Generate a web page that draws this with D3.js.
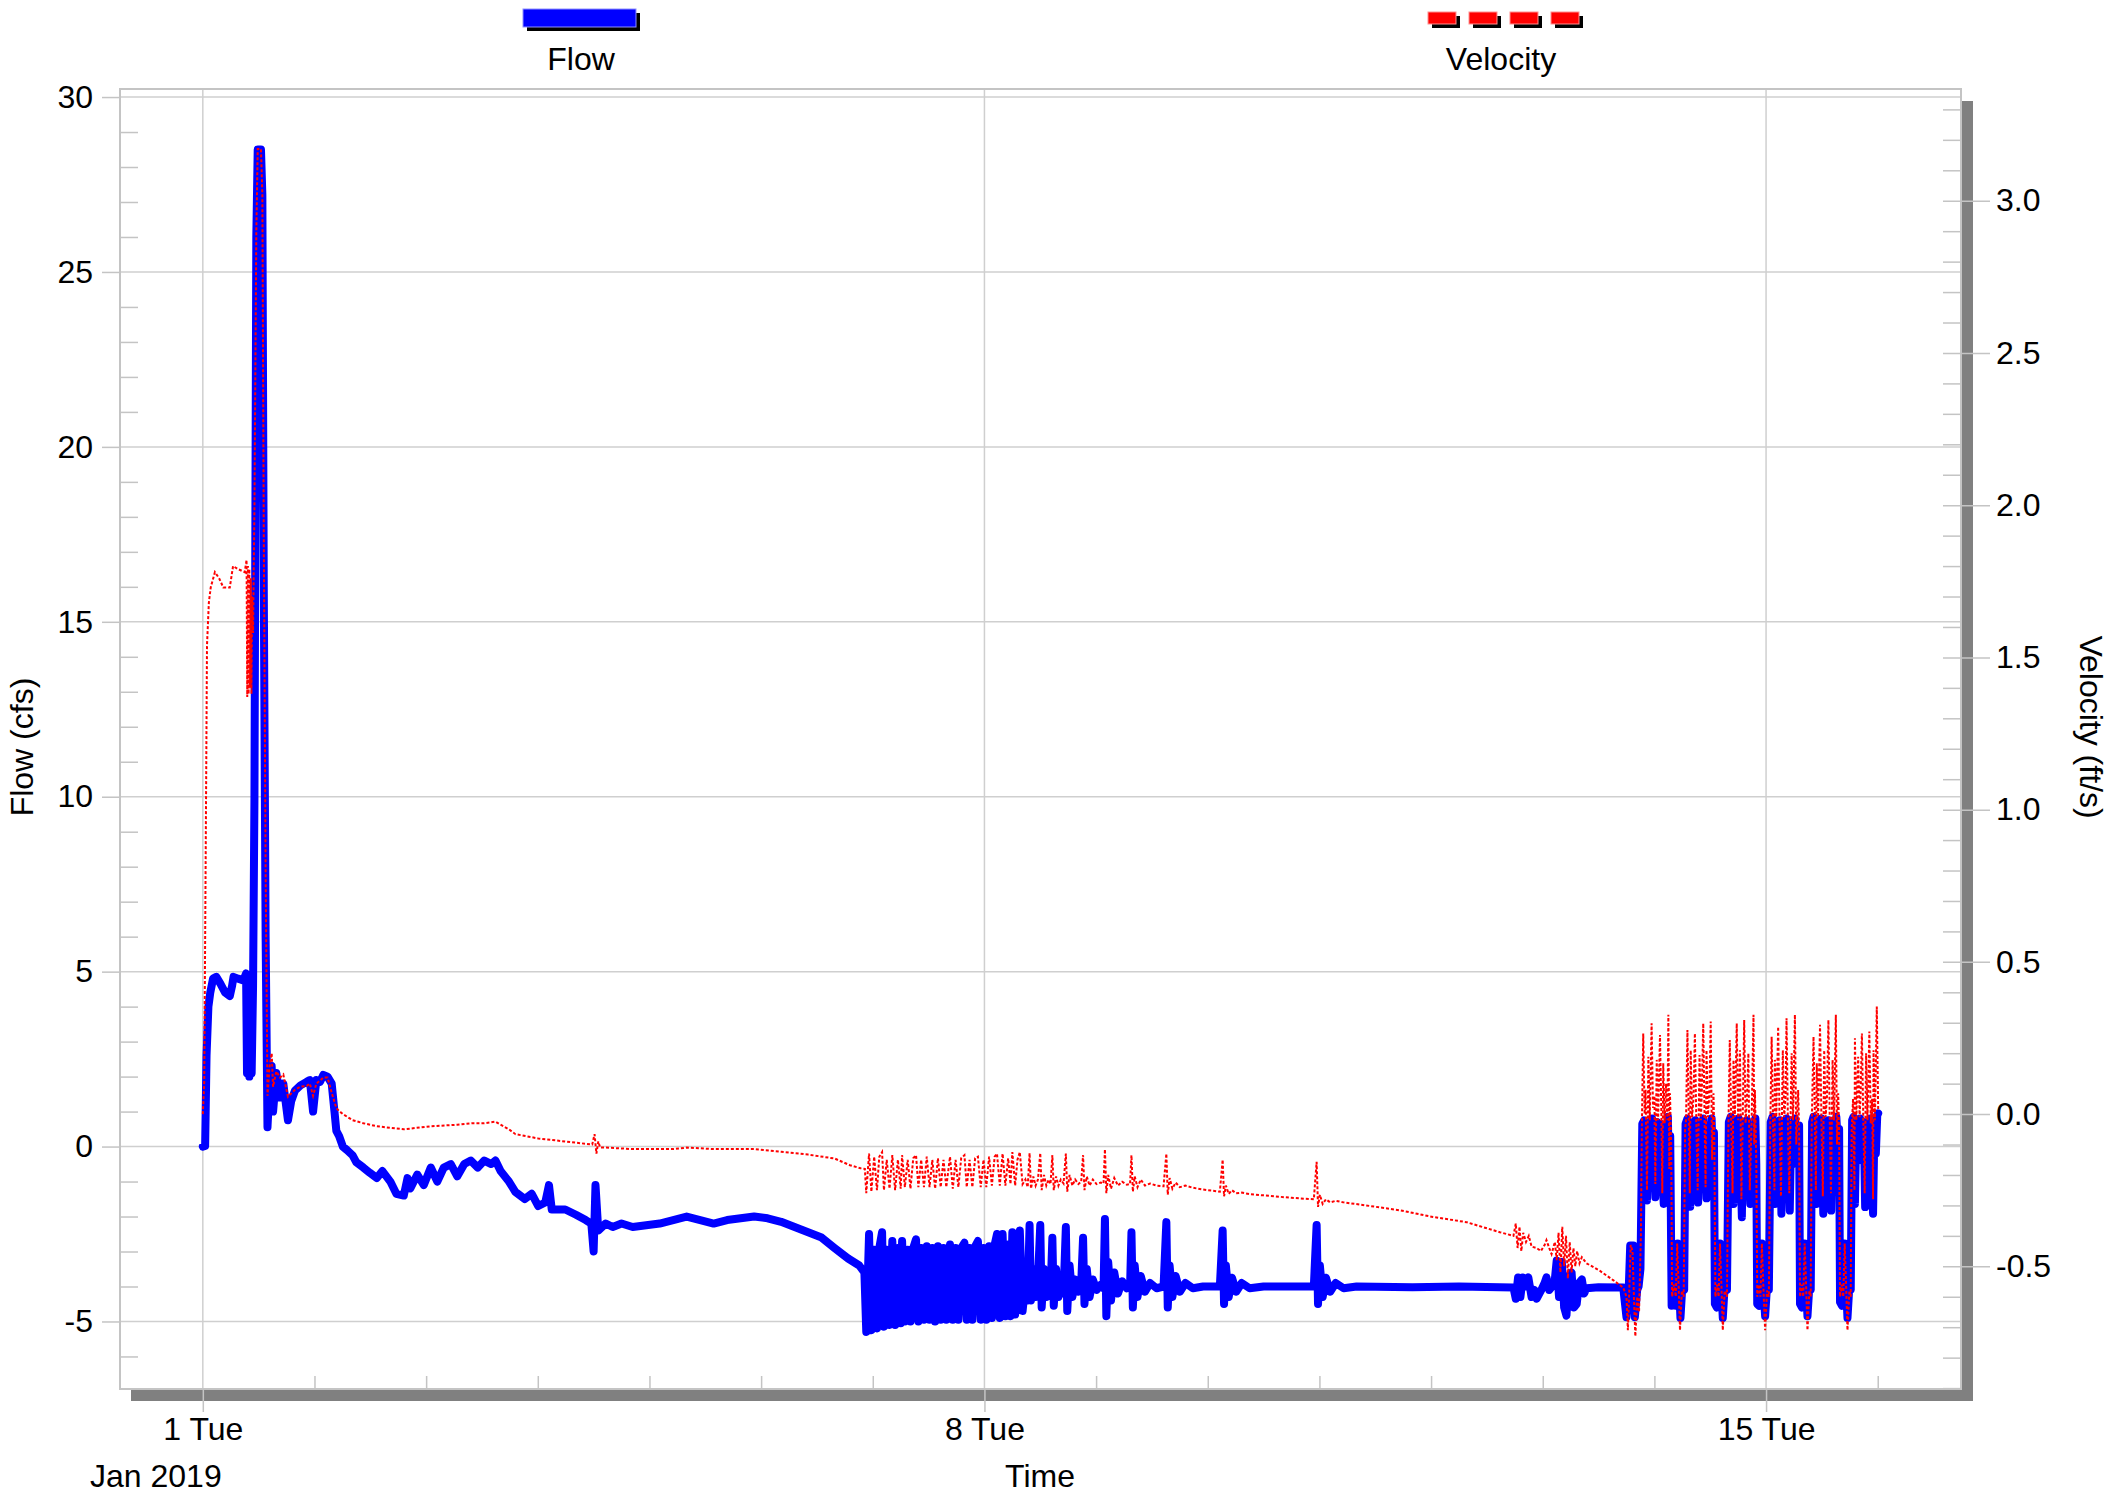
<!DOCTYPE html>
<html>
<head>
<meta charset="utf-8">
<script src="https://cdn.jsdelivr.net/npm/d3@7"></script>
<style>
  html, body { margin: 0; padding: 0; background: #ffffff; }
  svg { display: block; }
  text { font-family: "Liberation Sans", Arial, sans-serif; }
</style>
</head>
<body>
<svg id="chart" width="2112" height="1494"></svg>
<script>
// ---------------- DATA (hours since 2019-01-01 00:00, value) ----------------
const startDate = Date.UTC(2019, 0, 1);
const xDomainHours = [-17.8, 377.9];
const flowDomain = [-6.93, 30.23];
const velDomain = [-0.903, 3.367];

const flowTicks = [-5, 0, 5, 10, 15, 20, 25, 30];
const velTicks = [-0.5, 0.0, 0.5, 1.0, 1.5, 2.0, 2.5, 3.0];
const dayTicksMajor = [0, 7, 14];          // Jan 1, Jan 8, Jan 15 (days offset)
const seriesNames = ["Flow", "Velocity"];
const axisTitles = { flow: "Flow (cfs)", vel: "Velocity (ft/s)", time: "Time", month: "Jan 2019" };

// Flow (cfs)
const flowStart = [[0,0],[0.5,0.02],[0.8,2.6],[1.2,4.0],[1.6,4.4],[2.2,4.8],[2.9,4.85],[3.8,4.65],[4.8,4.4],[5.8,4.3],[6.3,4.6],[6.6,4.85],[7.6,4.8],[8.7,4.75],[9.3,4.95],[9.5,2.1],[9.8,4.6],[10.0,2.0],[10.3,4.4],[10.5,2.1],[10.8,4.6],[11.1,10],[11.5,26],[11.8,28.5],[12.5,28.5],[12.8,27.2],[13.1,16],[13.5,6],[13.9,0.55],[14.3,1.6],[14.8,2.3],[15.1,1.0],[15.8,2.1],[16.6,1.4],[17.3,1.8],[18.3,0.75],[19.0,1.3],[19.8,1.6],[21.0,1.75],[22.3,1.85],[23.0,1.9],[23.7,1.0],[24.4,1.9],[25.2,1.85],[25.9,2.05],[26.8,2.0],[27.7,1.8],[28.3,1.0],[28.7,0.45]];
const flowDecline = [[29.3,0.3],[30.1,0.0],[31.0,-0.1],[32.2,-0.25],[33.0,-0.45],[34.5,-0.6],[35.9,-0.75],[37.4,-0.9],[38.6,-0.7],[40.3,-1.0],[41.6,-1.35],[43.2,-1.4],[44.0,-0.9],[44.6,-1.2],[46.1,-0.8],[47.5,-1.1],[49.0,-0.6],[50.4,-1.0],[51.8,-0.6],[53.3,-0.5],[54.7,-0.85],[56.2,-0.5],[57.6,-0.4],[59.1,-0.6],[60.5,-0.4],[62.0,-0.5],[62.9,-0.4],[64.0,-0.7],[65.8,-1.0],[67.2,-1.3],[69.2,-1.5],[70.7,-1.35],[72.1,-1.7],[73.6,-1.6],[74.4,-1.1],[75.0,-1.8],[77.9,-1.8],[80.2,-1.95],[82.3,-2.1],[83.5,-2.2],[84.0,-3.0],[84.4,-1.1],[85.0,-2.4],[86.6,-2.2],[88.1,-2.3],[90.0,-2.2],[92.4,-2.3],[95.3,-2.25],[98.2,-2.2],[101.1,-2.1],[104.0,-2.0],[106.9,-2.1],[109.8,-2.2],[112.7,-2.1],[115.6,-2.05],[118.5,-2.0],[121.4,-2.05],[124.3,-2.15],[127.2,-2.3],[130.1,-2.45],[133.0,-2.6],[135.8,-2.9],[138.7,-3.2],[141.1,-3.4],[142.2,-3.6]];
const flowDense = [[142.6,-5.3],[143.2,-2.5],[143.7,-5.25],[144.3,-2.95],[144.9,-5.2],[145.4,-2.9],[146.0,-2.45],[146.4,-5.15],[147.0,-2.95],[147.6,-5.1],[148.2,-2.7],[148.8,-5.1],[149.4,-2.9],[150.0,-5.05],[150.3,-2.7],[150.9,-5.0],[151.5,-2.95],[152.1,-5.0],[152.7,-2.9],[153.3,-2.65],[153.8,-5.0],[154.4,-2.9],[155.0,-4.95],[155.6,-2.85],[156.2,-4.95],[156.8,-2.9],[157.4,-5.0],[158.0,-2.85],[158.6,-4.95],[159.2,-2.9],[159.8,-4.95],[160.6,-2.8],[161.2,-4.95],[161.8,-2.9],[162.4,-4.95],[163.0,-2.9],[163.7,-2.75],[164.2,-4.95],[164.8,-2.9],[165.4,-4.95],[166.0,-2.85],[166.6,-2.7],[167.2,-4.95],[167.8,-2.9],[168.4,-4.95],[169.0,-2.85],[169.6,-4.9],[170.2,-2.8],[170.7,-2.5],[171.3,-4.9],[171.9,-2.5],[172.5,-4.85],[173.1,-2.8],[173.6,-4.85],[174.0,-2.45],[174.6,-4.8],[175.1,-3.0],[175.6,-2.4],[176.2,-4.7]];
const flowSpikes = [[176.8,-3.9],[177.3,-4.4],[177.7,-2.24],[178.0,-4.4],[178.5,-3.5],[179.0,-4.3],[179.5,-3.8],[180.0,-2.24],[180.3,-4.6],[180.8,-3.5],[181.3,-4.3],[181.8,-3.8],[182.2,-4.2],[182.6,-2.61],[182.9,-4.55],[183.4,-3.5],[183.9,-4.3],[184.4,-3.8],[185.0,-4.2],[185.5,-2.3],[185.8,-4.7],[186.3,-3.4],[186.9,-4.3],[187.5,-3.8],[188.2,-4.15],[188.8,-3.9],[189.2,-2.61],[189.5,-4.5],[190.0,-3.5],[190.6,-4.3],[191.3,-3.8],[192.1,-4.1],[193.0,-3.95],[193.6,-4.05],[193.9,-2.07],[194.2,-4.85],[194.6,-3.3],[195.2,-4.4],[195.9,-3.6],[196.7,-4.2],[197.6,-3.85],[198.6,-4.05],[199.3,-4.0],[199.6,-2.45],[199.9,-4.6],[200.3,-3.4],[200.9,-4.3],[201.6,-3.7],[202.5,-4.15],[203.6,-3.9],[205.0,-4.05],[206.5,-4.0],[207.1,-2.16],[207.4,-4.6],[207.8,-3.4],[208.4,-4.3],[209.1,-3.7],[210.0,-4.15],[211.2,-3.9],[212.8,-4.05],[215.0,-4.0],[218.6,-4.0],[219.2,-2.4],[219.5,-4.5],[219.9,-3.4],[220.5,-4.3],[221.2,-3.75],[222.1,-4.15],[223.3,-3.9],[225.0,-4.05],[228.0,-4.0],[238.8,-4.0],[239.4,-2.24],[239.7,-4.5],[240.1,-3.4],[240.7,-4.3],[241.4,-3.75],[242.3,-4.15],[243.5,-3.9],[245.2,-4.05],[248.0,-4.0],[260,-4.02]];
const flowFlat = [[270,-4.0],[281.7,-4.03],[282.2,-4.35],[282.7,-3.74],[283.2,-4.3],[283.7,-3.74],[284.3,-4.0],[284.9,-3.74],[285.6,-4.3],[286.2,-4.1],[286.7,-4.35],[287.7,-4.1],[288.4,-3.9],[288.8,-3.74],[289.4,-4.1],[290.0,-4.0],[290.6,-3.8],[291.0,-3.26],[291.5,-4.3],[292.1,-3.3],[292.6,-4.6],[293.1,-4.83],[293.6,-3.7],[294.2,-3.6],[294.7,-4.6],[295.3,-4.5],[295.8,-3.9],[296.4,-3.8],[296.9,-4.2],[297.4,-4.05],[300,-4.02],[305.3,-4.03],[306.0,-4.88],[306.5,-4.0],[306.8,-2.83],[307.5,-2.83],[307.8,-4.88],[308.3,-4.1],[308.6,-4.0],[309.0,-3.5]];
const flowCycles = [[309.4,0.65],[309.8,0.75],[310.1,-0.4],[310.4,-1.54],[310.7,0.6],[311.1,-0.5],[311.5,0.8],[311.9,-0.3],[312.2,-1.45],[312.5,0.7],[312.9,-0.4],[313.3,0.65],[313.7,-0.6],[314.0,-1.64],[314.3,0.5],[314.6,-0.2],[314.9,0.85],[315.1,-0.88],[315.4,0.3],
  [315.7,-4.55],[316.2,-4.0],[316.6,-4.55],[317.0,-2.77],[317.3,-4.0],[317.6,-4.9],[318.0,-4.0],[318.4,-4.1],
  [318.7,0.65],[319.1,0.8],[319.4,-0.3],[319.7,-1.72],[320.0,0.6],[320.4,-0.4],[320.8,0.75],[321.1,-0.2],[321.4,-1.6],[321.7,0.7],[322.1,-0.5],[322.5,0.8],[322.9,-0.3],[323.2,-1.48],[323.5,0.6],[323.9,-0.2],[324.3,0.8],[324.6,-0.88],[324.8,0.4],
  [325.0,-4.5],[325.4,-4.6],[325.8,-4.0],[326.1,-2.77],[326.4,-4.0],[326.7,-4.9],[327.1,-4.0],[327.6,-4.1],
  [328.0,0.7],[328.4,0.85],[328.7,-0.4],[329.0,-1.64],[329.3,0.6],[329.7,-0.3],[330.1,0.8],[330.5,-0.5],[330.8,-2.02],[331.1,0.7],[331.5,-0.3],[331.9,0.75],[332.3,-0.4],[332.6,-1.64],[332.9,0.6],[333.3,0.0],[333.7,0.8],[333.9,-0.5],
  [334.1,-4.5],[334.5,-4.55],[334.9,-4.0],[335.1,-2.77],[335.4,-4.0],[335.8,-4.85],[336.2,-4.0],[336.6,-4.1],
  [337.0,0.7],[337.4,0.85],[337.7,-0.4],[337.9,-1.64],[338.2,0.6],[338.6,-0.3],[339.0,0.75],[339.3,-1.92],[339.6,0.7],[340.0,-0.4],[340.4,0.8],[340.8,-0.3],[341.1,-1.83],[341.4,0.65],[341.8,-0.2],[342.2,0.8],[342.6,-0.5],[342.9,0.2],[343.1,0.6],
  [343.3,-4.5],[343.7,-4.6],[344.0,-4.0],[344.3,-2.77],[344.6,-4.0],[344.9,-4.85],[345.3,-4.0],[345.6,-4.1],
  [345.9,0.7],[346.2,0.85],[346.5,-0.4],[346.8,-1.64],[347.1,0.6],[347.5,-0.3],[347.9,0.8],[348.3,-1.92],[348.6,0.7],[349.0,-0.4],[349.4,0.75],[349.7,-0.3],[350.0,-1.83],[350.3,0.6],[350.7,-0.2],[351.1,0.85],[351.5,-0.1],[351.7,0.5],
  [351.9,-4.45],[352.3,-4.55],[352.7,-4.0],[352.9,-2.77],[353.2,-4.0],[353.5,-4.9],[353.9,-4.0],[354.2,-4.1],
  [354.5,0.75],[354.8,0.85],[355.1,-1.64],[355.4,0.6],[355.8,-0.3],[356.2,0.8],[356.6,-0.4],[357.0,0.7],[357.3,-1.73],[357.6,0.65],[358.0,-0.3],[358.4,0.8],[358.7,-0.4],[359.0,-1.92],[359.3,0.6],[359.6,-0.2],[359.9,0.9],[360.1,0.95]];

// Velocity (ft/s)
const velStart = [[0.0,0.0],[0.3,0.1],[0.6,0.8],[0.9,1.54],[1.3,1.68],[1.7,1.73],[2.6,1.78],[3.5,1.76],[4.4,1.73],[5.8,1.73],[6.5,1.8],[7.6,1.79],[9.0,1.78],[9.4,1.82],[9.55,1.37],[9.7,1.8],[9.85,1.38],[10.0,1.79],[10.15,1.4],[10.3,1.76],[10.45,1.38],[10.6,1.7],[10.8,1.58],[11.1,2.0],[11.5,2.9],[11.8,3.17],[12.5,3.17],[12.8,3.02],[13.1,1.9],[13.5,0.8],[13.9,0.06],[14.3,0.15],[14.8,0.2],[15.1,0.09],[15.8,0.14],[16.6,0.12],[17.3,0.13],[18.3,0.057],[19.8,0.08],[21.0,0.09],[22.3,0.092],[23.0,0.1],[23.7,0.06],[24.4,0.1],[25.2,0.11],[25.9,0.12],[26.8,0.12],[27.7,0.07],[28.3,0.04],[28.7,0.02]];
const velDecline = [[29.3,0.01],[30.1,0.0],[32.2,-0.02],[34.5,-0.03],[37.4,-0.04],[43.2,-0.05],[49.0,-0.04],[54.7,-0.035],[58.0,-0.03],[60.5,-0.03],[62.9,-0.025],[64.0,-0.035],[65.8,-0.05],[67.2,-0.066],[72.1,-0.08],[77.9,-0.09],[83.7,-0.1],[84.2,-0.066],[84.6,-0.13],[85.0,-0.09],[85.4,-0.11],[86.6,-0.11],[92.4,-0.115],[101.1,-0.115],[104.0,-0.11],[109.8,-0.115],[118.5,-0.115],[124.3,-0.124],[130.1,-0.133],[135.8,-0.146],[139.1,-0.168],[141.4,-0.178],[142.3,-0.18]];
const velDense = [[142.6,-0.26],[143.2,-0.13],[143.7,-0.255],[144.3,-0.14],[144.9,-0.25],[145.4,-0.14],[146.0,-0.125],[146.4,-0.25],[147.0,-0.15],[147.6,-0.245],[148.2,-0.135],[148.8,-0.25],[149.4,-0.15],[150.0,-0.245],[150.3,-0.135],[150.9,-0.24],[151.5,-0.15],[152.1,-0.245],[152.7,-0.145],[153.3,-0.135],[153.8,-0.24],[154.4,-0.15],[155.0,-0.24],[155.6,-0.14],[156.2,-0.24],[156.8,-0.15],[157.4,-0.245],[158.0,-0.145],[158.6,-0.24],[159.2,-0.15],[159.8,-0.24],[160.6,-0.14],[161.2,-0.245],[161.8,-0.15],[162.4,-0.24],[163.0,-0.145],[163.7,-0.135],[164.2,-0.24],[164.8,-0.15],[165.4,-0.24],[166.0,-0.145],[166.6,-0.14],[167.2,-0.24],[167.8,-0.15],[168.4,-0.24],[169.0,-0.14],[169.6,-0.235],[170.2,-0.14],[170.7,-0.13],[171.3,-0.235],[171.9,-0.13],[172.5,-0.235],[173.1,-0.145],[173.6,-0.23],[174.0,-0.125],[174.6,-0.235],[175.1,-0.15],[175.6,-0.125],[176.2,-0.23]];
const velSpikes = [[176.8,-0.215],[177.3,-0.24],[177.7,-0.128],[178.0,-0.245],[178.5,-0.205],[179.0,-0.235],[179.5,-0.215],[180.0,-0.128],[180.3,-0.25],[180.8,-0.2],[181.3,-0.235],[181.8,-0.215],[182.2,-0.23],[182.6,-0.135],[182.9,-0.25],[183.4,-0.205],[183.9,-0.235],[184.4,-0.215],[185.0,-0.228],[185.5,-0.13],[185.8,-0.255],[186.3,-0.2],[186.9,-0.235],[187.5,-0.215],[188.2,-0.23],[188.8,-0.222],[189.2,-0.135],[189.5,-0.25],[190.0,-0.205],[190.6,-0.235],[191.3,-0.215],[192.1,-0.23],[193.0,-0.225],[193.6,-0.228],[193.9,-0.116],[194.2,-0.26],[194.6,-0.2],[195.2,-0.245],[195.9,-0.21],[196.7,-0.235],[197.6,-0.222],[198.6,-0.232],[199.3,-0.23],[199.6,-0.135],[199.9,-0.255],[200.3,-0.205],[200.9,-0.24],[201.6,-0.215],[202.5,-0.235],[203.6,-0.228],[205.0,-0.235],[206.5,-0.237],[207.1,-0.13],[207.4,-0.265],[207.8,-0.21],[208.4,-0.245],[209.1,-0.225],[210.0,-0.24],[211.2,-0.235],[212.8,-0.242],[215.0,-0.248],[218.6,-0.255],[219.2,-0.15],[219.5,-0.27],[219.9,-0.235],[220.5,-0.262],[221.2,-0.25],[222.1,-0.26],[223.3,-0.258],[225.0,-0.263],[228.0,-0.267],[234.0,-0.275],[238.8,-0.28],[239.4,-0.157],[239.7,-0.305],[240.1,-0.265],[240.7,-0.295],[241.4,-0.28],[242.3,-0.29],[243.5,-0.285],[245.2,-0.29],[250.0,-0.3],[257.3,-0.316]];
const velFlat = [[264.4,-0.338],[271.6,-0.355],[278.8,-0.388],[281.7,-0.4],[282.2,-0.36],[282.6,-0.44],[283.0,-0.37],[283.4,-0.45],[283.8,-0.39],[284.4,-0.42],[285.0,-0.4],[285.6,-0.435],[286.7,-0.44],[287.6,-0.45],[288.4,-0.43],[288.8,-0.414],[289.4,-0.44],[289.9,-0.46],[290.6,-0.42],[291.0,-0.48],[291.4,-0.39],[291.8,-0.52],[292.2,-0.37],[292.6,-0.5],[293.0,-0.4],[293.4,-0.54],[293.8,-0.42],[294.2,-0.52],[294.6,-0.44],[295.0,-0.5],[295.4,-0.45],[295.9,-0.49],[296.4,-0.47],[297.4,-0.49],[300.3,-0.515],[303.2,-0.546],[305.3,-0.57],[306.0,-0.6],[306.3,-0.71],[306.6,-0.58],[306.9,-0.43],[307.3,-0.45],[307.6,-0.6],[307.9,-0.73],[308.3,-0.6],[308.7,-0.65],[309.1,-0.4]];
const velCycles = [[309.3,-0.05],[309.6,0.265],[309.9,0.0],[310.1,0.08],[310.4,-0.25],[310.7,0.188],[311.0,-0.02],[311.4,0.298],[311.7,0.02],[312.0,0.06],[312.2,-0.23],[312.5,0.178],[312.8,-0.02],[313.2,0.26],[313.5,0.0],[313.7,-0.26],[313.9,0.167],[314.2,-0.03],[314.5,0.1],[314.8,-0.02],[315.0,0.326],[315.2,-0.18],[315.35,0.068],[315.6,-0.1],[315.8,-0.6],
  [316.2,-0.56],[316.6,-0.6],[316.9,-0.425],[317.2,-0.56],[317.5,-0.71],[317.9,-0.58],[318.3,-0.6],[318.6,-0.05],
  [318.8,-0.02],[319.1,0.276],[319.4,-0.02],[319.6,-0.26],[319.8,0.21],[320.1,-0.01],[320.4,0.05],[320.7,0.265],[321.0,-0.02],[321.3,-0.25],[321.7,0.194],[322.0,-0.02],[322.2,0.08],[322.5,0.298],[322.8,-0.03],[323.0,-0.24],[323.2,0.21],[323.5,-0.01],[323.8,0.06],[324.1,0.304],[324.4,-0.15],[324.7,0.068],[324.9,-0.1],[325.1,-0.6],
  [325.5,-0.56],[325.8,-0.6],[326.1,-0.425],[326.4,-0.56],[326.7,-0.71],[327.1,-0.58],[327.6,-0.6],[327.9,-0.05],
  [328.2,0.243],[328.5,-0.02],[328.8,-0.26],[329.0,0.178],[329.3,-0.01],[329.7,0.298],[330.0,-0.02],[330.2,0.06],[330.4,0.21],[330.7,-0.28],[331.0,0.0],[331.3,0.309],[331.6,-0.03],[331.9,0.05],[332.2,0.2],[332.5,-0.25],[332.9,-0.02],[333.3,0.326],[333.45,-0.1],[333.6,0.079],[333.9,-0.15],[334.1,-0.6],
  [334.5,-0.56],[334.8,-0.6],[335.1,-0.425],[335.4,-0.56],[335.8,-0.71],[336.2,-0.58],[336.6,-0.6],[336.9,-0.05],
  [337.2,0.254],[337.5,-0.02],[337.8,-0.25],[337.9,0.178],[338.2,-0.01],[338.6,0.287],[338.9,-0.02],[339.2,-0.27],[339.6,0.21],[339.9,-0.01],[340.2,0.06],[340.4,0.315],[340.7,-0.03],[341.0,-0.26],[341.5,0.2],[341.8,-0.02],[342.2,0.326],[342.5,-0.1],[342.9,0.079],[343.1,-0.05],[343.3,-0.6],
  [343.7,-0.56],[344.0,-0.6],[344.3,-0.425],[344.6,-0.56],[344.9,-0.71],[345.3,-0.58],[345.6,-0.6],[345.8,-0.05],
  [346.2,0.254],[346.5,-0.02],[346.7,-0.25],[346.9,0.167],[347.2,-0.01],[347.6,0.293],[347.9,-0.02],[348.2,-0.27],[348.5,0.21],[348.8,-0.01],[349.1,0.06],[349.4,0.309],[349.7,-0.03],[349.95,-0.26],[350.3,0.178],[350.6,-0.02],[351.0,0.326],[351.25,-0.1],[351.5,0.068],[351.7,-0.05],[351.9,-0.6],
  [352.3,-0.56],[352.6,-0.6],[352.9,-0.425],[353.2,-0.56],[353.5,-0.71],[353.9,-0.58],[354.2,-0.6],[354.4,-0.05],
  [354.7,0.05],[355.0,-0.25],[355.1,0.249],[355.4,-0.02],[355.8,0.188],[356.1,-0.01],[356.3,0.05],[356.6,0.265],[356.9,-0.02],[357.2,-0.26],[357.5,0.2],[357.8,-0.02],[358.2,0.271],[358.5,-0.03],[358.8,0.05],[359.0,-0.28],[359.1,0.21],[359.4,-0.02],[359.8,0.353],[360.1,0.013]];

const flowData = [].concat(flowStart, flowDecline, flowDense, flowSpikes, flowFlat, flowCycles);
const velData = [].concat(velStart, velDecline, velDense, velSpikes, velFlat, velCycles);

// ---------------- LAYOUT ----------------
const P = { left: 120, right: 1961, top: 89, bottom: 1389 };
const FONT = 32;
const GRID = "#cfcfcf";
const FRAME = "#c4c4c4";
const SHADOW = "#808080";

const loc = d3.formatLocale({ decimal: ".", thousands: ",", grouping: [3], currency: ["$", ""], minus: "-" });
const hourToDate = h => new Date(startDate + h * 3600000);
const x = d3.scaleUtc().domain(xDomainHours.map(hourToDate)).range([P.left, P.right]);
const yF = d3.scaleLinear().domain(flowDomain).range([P.bottom, P.top]);
const yV = d3.scaleLinear().domain(velDomain).range([P.bottom, P.top]);

const svg = d3.select("#chart");
svg.append("rect").attr("width", 2112).attr("height", 1494).attr("fill", "#fff");

// shadow of the plot box
svg.append("rect").attr("x", P.left + 11).attr("y", P.bottom).attr("width", P.right - P.left + 1).attr("height", 12).attr("fill", SHADOW);
svg.append("rect").attr("x", P.right).attr("y", P.top + 12).attr("width", 12).attr("height", P.bottom - P.top).attr("fill", SHADOW);
svg.append("rect").attr("x", P.left).attr("y", P.top).attr("width", P.right - P.left).attr("height", P.bottom - P.top).attr("fill", "#fff");

// horizontal gridlines (flow majors)
svg.append("g").selectAll("line").data(flowTicks).join("line")
  .attr("x1", P.left).attr("x2", P.right).attr("y1", d => yF(d)).attr("y2", d => yF(d))
  .attr("stroke", GRID).attr("stroke-width", 1.5);
// vertical gridlines (major days)
const majorDates = dayTicksMajor.map(d => hourToDate(d * 24));
svg.append("g").selectAll("line").data(majorDates).join("line")
  .attr("x1", d => x(d)).attr("x2", d => x(d)).attr("y1", P.top).attr("y2", P.bottom)
  .attr("stroke", GRID).attr("stroke-width", 1.5);

// minor ticks
const flowMinor = d3.range(-6, 31, 1).filter(v => v % 5 !== 0);
const velMinor = d3.range(-9, 34, 1).map(v => v / 10).filter(v => Math.round(v * 10) % 5 !== 0);
const dayMinor = d3.range(0, 17, 1).filter(d => !dayTicksMajor.includes(d))
  .map(d => hourToDate(d * 24)).filter(d => x(d) > P.left && x(d) < P.right);

function styleAxis(g) {
  g.select(".domain").remove();
  g.selectAll(".tick line").attr("stroke", FRAME).attr("stroke-width", 1.5);
  g.selectAll(".tick text").attr("fill", "#000").style("font-size", FONT + "px")
    .style("font-family", "'Liberation Sans', Arial, sans-serif");
}

svg.append("g").attr("transform", `translate(${P.left},0)`)
  .call(d3.axisRight(yF).tickValues(flowMinor).tickSize(18).tickFormat(""))
  .call(styleAxis);
svg.append("g").attr("transform", `translate(${P.right},0)`)
  .call(d3.axisLeft(yV).tickValues(velMinor).tickSize(18).tickFormat(""))
  .call(styleAxis);
svg.append("g").attr("transform", `translate(0,${P.bottom})`)
  .call(d3.axisTop(x).tickValues(dayMinor).tickSize(13).tickFormat(""))
  .call(styleAxis);

// major axes with labels
svg.append("g").attr("transform", `translate(${P.left},0)`)
  .call(d3.axisLeft(yF).tickValues(flowTicks).tickSize(18).tickPadding(9).tickFormat(loc.format("d")))
  .call(styleAxis);
svg.append("g").attr("transform", `translate(${P.right - 18},0)`)
  .call(d3.axisRight(yV).tickValues(velTicks).tickSize(47).tickPadding(6).tickFormat(loc.format(".1f")))
  .call(styleAxis);
svg.append("g").attr("transform", `translate(0,${P.bottom})`)
  .call(d3.axisBottom(x).tickValues(majorDates).tickSize(23).tickPadding(5).tickFormat(d3.utcFormat("%-d %a")))
  .call(styleAxis);

// frame
svg.append("rect").attr("x", P.left).attr("y", P.top).attr("width", P.right - P.left).attr("height", P.bottom - P.top)
  .attr("fill", "none").attr("stroke", FRAME).attr("stroke-width", 2);

// clip
svg.append("clipPath").attr("id", "clip").append("rect")
  .attr("x", P.left).attr("y", P.top).attr("width", P.right - P.left).attr("height", P.bottom - P.top);

const plot = svg.append("g").attr("clip-path", "url(#clip)");
const lineF = d3.line().x(d => x(hourToDate(d[0]))).y(d => yF(d[1]));
const lineV = d3.line().x(d => x(hourToDate(d[0]))).y(d => yV(d[1]));

plot.append("path").datum(flowData).attr("d", lineF)
  .attr("fill", "none").attr("stroke", "#0000ff").attr("stroke-width", 8)
  .attr("stroke-linejoin", "round").attr("stroke-linecap", "round");
plot.append("path").datum(velData).attr("d", lineV)
  .attr("fill", "none").attr("stroke", "#ff0000").attr("stroke-width", 2)
  .attr("stroke-dasharray", "3,2");

// axis titles
svg.append("text").attr("transform", `translate(33,747) rotate(-90)`).attr("text-anchor", "middle")
  .style("font-size", FONT + "px").text(axisTitles.flow);
svg.append("text").attr("transform", `translate(2080,727) rotate(90)`).attr("text-anchor", "middle")
  .style("font-size", FONT + "px").text(axisTitles.vel);
svg.append("text").attr("x", 1040).attr("y", 1487).attr("text-anchor", "middle")
  .style("font-size", FONT + "px").text(axisTitles.time);
svg.append("text").attr("x", 90).attr("y", 1487).attr("text-anchor", "start")
  .style("font-size", FONT + "px").text(axisTitles.month);

// legend
const lg = svg.append("g");
lg.append("rect").attr("x", 527).attr("y", 13).attr("width", 113).attr("height", 18).attr("fill", "#000");
lg.append("rect").attr("x", 523).attr("y", 9).attr("width", 113).attr("height", 18).attr("fill", "#0000ff")
  .attr("stroke", "#8f8fff").attr("stroke-width", 1);
lg.append("text").attr("x", 581).attr("y", 70).attr("text-anchor", "middle").style("font-size", FONT + "px").text(seriesNames[0]);
const dashX = [1428, 1469, 1510, 1551];
lg.selectAll("rect.dsh").data(dashX).join("rect").attr("class", "dsh")
  .attr("x", d => d + 4).attr("y", 16).attr("width", 28).attr("height", 12).attr("fill", "#000");
lg.selectAll("rect.dsr").data(dashX).join("rect").attr("class", "dsr")
  .attr("x", d => d).attr("y", 12).attr("width", 28).attr("height", 12).attr("fill", "#ff0000")
  .attr("stroke", "#ff9090").attr("stroke-width", 1);
lg.append("text").attr("x", 1501).attr("y", 70).attr("text-anchor", "middle").style("font-size", FONT + "px").text(seriesNames[1]);
</script>
</body>
</html>
